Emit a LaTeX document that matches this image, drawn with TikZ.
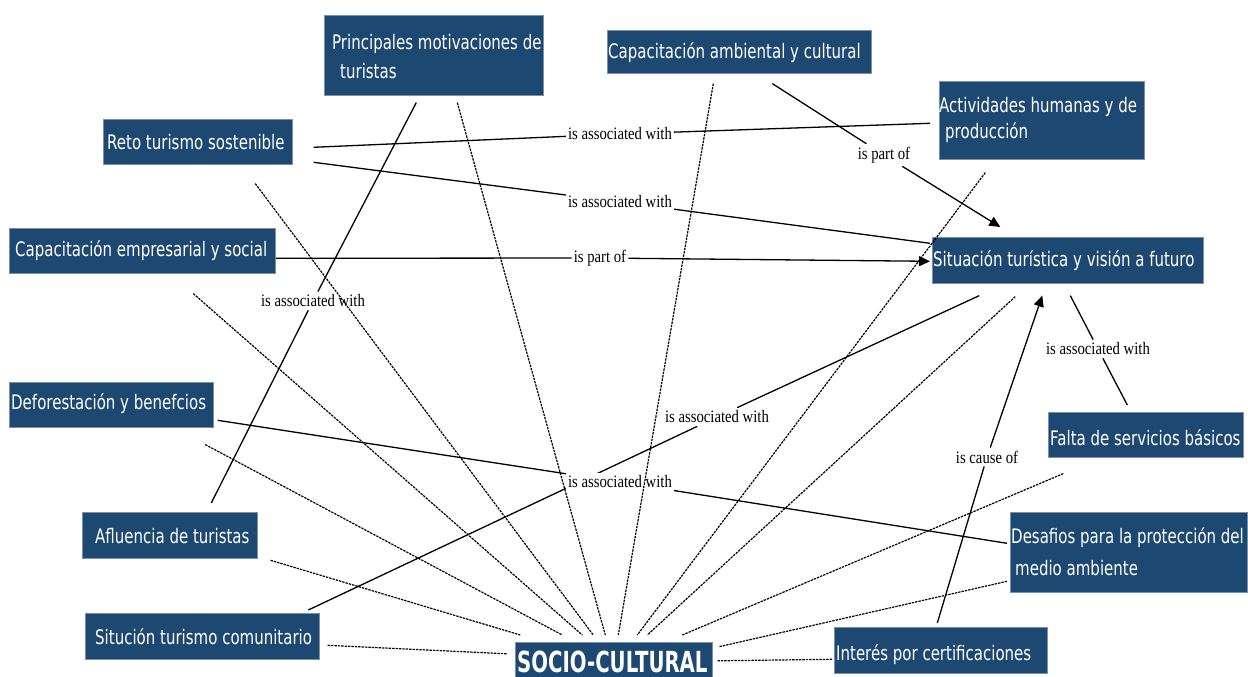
\documentclass[tikz,border=0pt]{standalone}
\usepackage{fontspec}
\usetikzlibrary{arrows.meta,backgrounds}
\newfontfamily\boxfont[FakeStretch=0.75]{DejaVu Sans}
\newfontfamily\socfont[FakeStretch=0.68]{DejaVu Sans}
\newfontfamily\lblfont[FakeStretch=0.84]{Liberation Serif}
\definecolor{boxblue}{RGB}{29,72,113}
\tikzset{
  box/.style={fill=boxblue, draw=boxblue!60!white, line width=0.6pt, inner sep=0pt, anchor=north west},
  btxt/.style={text=white, font=\boxfont\fontsize{20}{24}\selectfont, inner sep=0pt, anchor=base west},
  lbl/.style={fill=white, font=\lblfont\fontsize{17.5}{20}\selectfont, inner xsep=2pt, inner ysep=3pt},
  conn/.style={line width=1.3pt},
  arr/.style={conn, -{Triangle[length=11pt,width=10pt]}},
  dots/.style={line width=1.2pt, dash pattern=on 2.4pt off 1pt},
}
\begin{document}
\begin{tikzpicture}[x=1pt,y=-1pt]
\useasboundingbox (0,0) rectangle (1248,677);

% boxes
\node[box, minimum width=219, minimum height=80] (prin) at (324,15) {};
\node[box, minimum width=264, minimum height=43] (capamb) at (607,30) {};
\node[box, minimum width=189, minimum height=45] (reto) at (103,119) {};
\node[box, minimum width=205, minimum height=78] (activ) at (939,81) {};
\node[box, minimum width=271, minimum height=46] (sit) at (932,237) {};
\node[box, minimum width=266, minimum height=45] (capemp) at (9,228) {};
\node[box, minimum width=204, minimum height=45] (defor) at (9,382) {};
\node[box, minimum width=195, minimum height=45] (falta) at (1048,412) {};
\node[box, minimum width=175, minimum height=46] (aflu) at (82,512) {};
\node[box, minimum width=237, minimum height=80] (desaf) at (1010,512) {};
\node[box, minimum width=234, minimum height=46] (situc) at (85,613) {};
\node[box, minimum width=213, minimum height=46] (inter) at (834,627) {};
\node[box, minimum width=197, minimum height=36] (socio) at (515,642) {};

% box texts
\node[btxt] (prin-t1) at (332,50) {Principales motivaciones de};
\node[btxt] (prin-t2) at (340,79) {turistas};
\node[btxt] (capamb-t) at (608,59) {Capacitación ambiental y cultural};
\node[btxt] (reto-t) at (107,149) {Reto turismo sostenible};
\node[btxt] (activ-t1) at (939,113) {Actividades humanas y de};
\node[btxt] (activ-t2) at (945,138) {producción};
\node[btxt] (sit-t) at (933,266) {Situación turística y visión a futuro};
\node[btxt] (capemp-t) at (15,256) {Capacitación empresarial y social};
\node[btxt] (defor-t) at (11,409) {Deforestación y benefcios};
\node[btxt] (falta-t) at (1050,445) {Falta de servicios básicos};
\node[btxt] (aflu-t) at (95,543) {Afluencia de turistas};
\node[btxt] (desaf-t1) at (1011,543) {Desafios para la protección del};
\node[btxt] (desaf-t2) at (1015,575) {medio ambiente};
\node[btxt] (situc-t) at (95,644) {Situción turismo comunitario};
\node[btxt] (inter-t) at (836,660) {Interés por certificaciones};
\node[btxt, font=\socfont\fontsize{29}{32}\selectfont\bfseries] (socio-t) at (517,672) {SOCIO-CULTURAL};

% link labels
\node[lbl] (la) at (313,301) {is associated with};
\node[lbl] (lb) at (620,134) {is associated with};
\node[lbl] (lc) at (620,202) {is associated with};
\node[lbl] (ld) at (600,258) {is part of};
\node[lbl] (le) at (884,155) {is part of};
\node[lbl] (lf) at (717,417) {is associated with};
\node[lbl] (lg) at (620,482) {is associated with};
\node[lbl] (lh) at (1098,349) {is associated with};
\node[lbl] (li) at (987,457) {is cause of};

% solid connectors
\begin{scope}[on background layer]
\draw[conn] ([shift={(-17.5,7)}]prin.south) -- (la) -- ([shift={(41.5,-9)}]aflu.north);
\draw[conn] ([shift={(21,5.5)}]reto.east) -- (lb) -- ([shift={(-9,3)}]activ.west);
\draw[conn] ([shift={(21,20.5)}]reto.east) -- (lc) -- ([shift={(-2,-17)}]sit.west);
\draw[arr] ([shift={(0,7.5)}]capemp.east) -- (ld) -- ([shift={(-2,1)}]sit.west);
\draw[arr] ([shift={(33,10)}]capamb.south) -- (le) -- ([shift={(-67.5,-10)}]sit.north);
\draw[conn] ([shift={(-88.5,12)}]sit.south) -- (lf) -- ([shift={(106,-3)}]situc.north);
\draw[conn] ([shift={(4,15.5)}]defor.east) -- (lg) -- ([shift={(-3,-9)}]desaf.west);
\draw[conn] ([shift={(-18.5,-7)}]falta.north) -- (lh) -- ([shift={(2.5,12)}]sit.south);
\draw[arr] ([shift={(-3.5,-4)}]inter.north) -- (li) -- ([shift={(-25.5,12)}]sit.south);
\end{scope}

% dotted connectors to SOCIO-CULTURAL
\draw[dots] ([shift={(23.5,7)}]prin.south) -- ([shift={(-8.5,-7)}]socio.north);
\draw[dots] ([shift={(-26,10)}]capamb.south) -- ([shift={(4.5,-7)}]socio.north);
\draw[dots] ([shift={(57.5,19)}]reto.south) -- ([shift={(-20.5,-7)}]socio.north);
\draw[dots] ([shift={(51,20)}]capemp.south) -- ([shift={(-31.5,-7)}]socio.north);
\draw[dots] ([shift={(94,17)}]defor.south) -- ([shift={(-51.5,-7)}]socio.north);
\draw[dots] ([shift={(13,25)}]aflu.east) -- ([shift={(-93.5,-7)}]socio.north);
\draw[dots] ([shift={(8,9)}]situc.east) -- ([shift={(-8,-6.5)}]socio.west);
\draw[dots] ([shift={(-56.5,13)}]activ.south) -- ([shift={(23.5,-7)}]socio.north);
\draw[dots] ([shift={(-52.5,13)}]sit.south) -- ([shift={(33.5,-7)}]socio.north);
\draw[dots] ([shift={(-82.5,16)}]falta.south) -- ([shift={(68.5,-7)}]socio.north);
\draw[dots] ([shift={(-3,29)}]desaf.west) -- ([shift={(6,-13.5)}]socio.east);
\draw[dots] ([shift={(-2,9)}]inter.west) -- ([shift={(5,0.5)}]socio.east);
\end{tikzpicture}
\end{document}
